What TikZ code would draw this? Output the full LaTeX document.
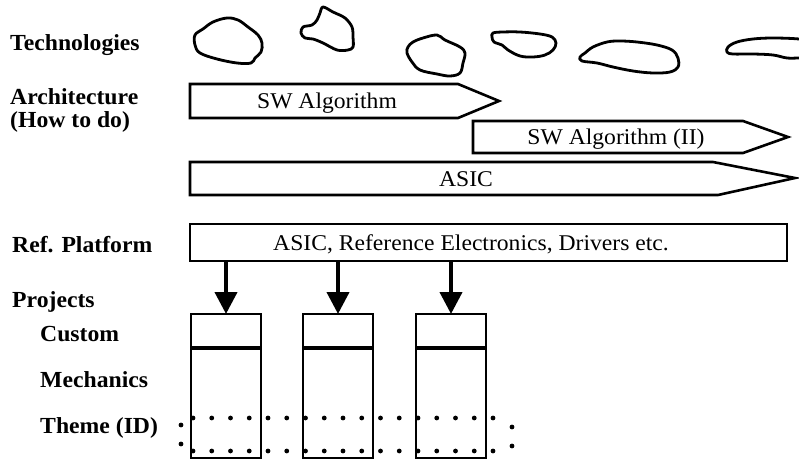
\documentclass[tikz,border=0pt]{standalone}
\usepackage{fontspec}
\setmainfont{Liberation Serif}
\usetikzlibrary{arrows.meta}
\newcommand\lbl[1]{\scalebox{1.03}[1]{\fontsize{23}{25}\selectfont\bfseries #1}}
\newcommand\txt[1]{\scalebox{1.05}[1]{\fontsize{22.5}{25}\selectfont #1}}
\begin{document}
\begin{tikzpicture}[x=1pt,y=-1pt,
  blob/.style={line width=2.8pt, line join=round},
  pent/.style={line width=2.6pt, line join=miter},
  box/.style={draw, line width=2.9pt, inner sep=0pt, outer sep=0pt},
  divline/.style={line width=4pt},
  feed/.style={line width=4pt, -{Triangle[width=22pt,length=22pt]}},
  label/.style={anchor=base west, inner sep=0pt},
  intext/.style={anchor=base, inner sep=0pt},
  dotmark/.style={fill=black}]
\useasboundingbox (0,0) rectangle (799,460);
\begin{scope}
\clip (0,0) rectangle (799,460);
% technologies blobs
\draw[blob] plot[smooth cycle, tension=0.6] coordinates {(195,35) (203,29) (213,22) (227,18) (238,20) (248,27) (258,35) (262,43) (261,52) (255,58) (251,63) (237,63) (217,59) (200,53) (195,45)};
\draw[blob] plot[smooth cycle, tension=0.55] coordinates {(323,7) (333,12) (345,18) (352,27) (353,37) (353,47) (348,50) (337,50) (323,43) (313,39) (305,38) (301,33) (303,27) (312,25) (317,20) (320,13)};
\draw[blob] plot[smooth cycle, tension=0.6] coordinates {(408,47) (413,42) (423,38) (437,35) (445,40) (460,47) (465,53) (463,63) (460,73) (450,76) (437,74) (420,70) (412,62) (407,53)};
\draw[blob] plot[smooth cycle, tension=0.6] coordinates {(493,33) (503,32) (520,32) (540,34) (552,37) (556,43) (553,50) (545,55) (533,57) (520,56) (508,50) (502,45) (494,42) (492,37)};
\draw[blob] plot[smooth cycle, tension=0.6] coordinates {(585,53) (593,47) (607,42) (620,41) (637,42) (657,45) (672,50) (678,58) (678,67) (670,72) (653,73) (633,71) (613,67) (597,63) (582,61) (580,57)};
\draw[blob] plot[smooth cycle, tension=0.6] coordinates {(728,47) (737,42) (753,39) (773,38) (799,39) (815,42) (818,50) (812,58) (799,58) (787,58) (773,55) (753,54) (733,54) (727,52)};
\end{scope}
% labels
\node[label] (lt) at (10,50) {\lbl{Technologies}};
\node[label] (la) at (10,104) {\lbl{Architecture}};
\node[label] (lh) at (10,127) {\lbl{(How to do)}};
\node[label] (lr) at (12,252) {\lbl{Ref. Platform}};
\node[label] (lp) at (12,307) {\lbl{Projects}};
\node[label] (lc) at (40,341) {\lbl{Custom}};
\node[label] (lm) at (40,387) {\lbl{Mechanics}};
\node[label] (li) at (40,433) {\lbl{Theme (ID)}};
% architecture arrows
\draw[pent] (190,84) -- (458,84) -- (499,101) -- (458,118) -- (190,118) -- cycle;
\node[intext] (swa) at (327,108) {\txt{SW Algorithm}};
\draw[pent] (473,121) -- (743,121) -- (788,137) -- (743,153) -- (473,153) -- cycle;
\node[intext] (swb) at (616,144) {\txt{SW Algorithm (II)}};
\draw[pent] (190,162) -- (713,162) -- (795,178) -- (718,195) -- (190,195) -- cycle;
\node[intext] (asic) at (466,186) {\txt{ASIC}};
% reference platform
\node[box, minimum width=597pt, minimum height=37pt, anchor=north west] (ref) at (190,224) {};
\node[intext] (reftxt) at (471,250) {\txt{ASIC, Reference Electronics, Drivers etc.}};
% project boxes
\foreach \n/\cx in {p1/226, p2/338, p3/451}{
  \node[box, minimum width=70pt, minimum height=144pt, anchor=north] (\n) at (\cx,314) {};
  \draw[divline] (\n.west |- 0,348) -- (\n.east |- 0,348);
  \draw[feed] (ref.south -| \n.north) -- (\n.north);
}
% dotted theme band
\foreach \k in {0,...,16}{
  \fill[dotmark] (193+18.75*\k,418) circle (2.4);
  \fill[dotmark] (193+18.75*\k,451) circle (2.4);
}
\fill[dotmark] (181,425) circle (2.4);
\fill[dotmark] (181,444) circle (2.4);
\fill[dotmark] (512,427) circle (2.4);
\fill[dotmark] (512,446) circle (2.4);
\end{tikzpicture}
\end{document}
